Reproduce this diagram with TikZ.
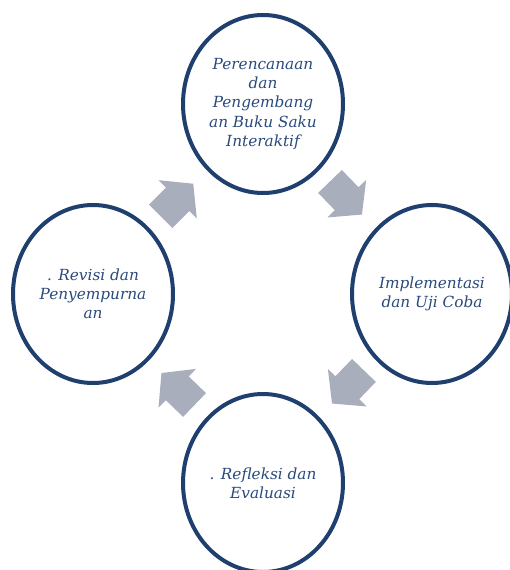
\documentclass[tikz,border=0pt]{standalone}
\usepackage{fontspec}
\setmainfont{DejaVu Serif}
\usetikzlibrary{shapes.geometric}
\definecolor{ringblue}{HTML}{1F3F6E}
\definecolor{textblue}{HTML}{2A4A7C}
\definecolor{arrowgray}{HTML}{A8AEBC}
\begin{document}
\begin{tikzpicture}[x=1pt,y=-1pt,
  stage/.style={ellipse,draw=ringblue,line width=4pt,fill=white,
    minimum width=160pt,minimum height=178pt,inner sep=0pt,
    align=center,text=textblue,
    font=\itshape\fontsize{15.3}{19.2}\selectfont},
  blockarrow/.style={fill=arrowgray,draw=none}]
\useasboundingbox (0,0) rectangle (509,570);
% the four stages of the cycle
\node[stage] (plan) at (263,104) {Perencanaan\\dan\\Pengembang\\an Buku Saku\\Interaktif};
\node[stage] (impl) at (432,294) {Implementasi\\dan Uji Coba};
\node[stage] (refl) at (263,483) {. Refleksi dan\\Evaluasi};
\node[stage] (rev)  at (93,294)  {. Revisi dan\\Penyempurna\\an};
% block arrows between the stages: shaft plus a wide head, drawn along local x
\foreach \cx/\cy/\ang in {346/198/-46, 348/387/226, 178/389/136, 177/200/45}{
  \begin{scope}[shift={(\cx,\cy)},rotate=\ang]
    \fill[blockarrow] (-23,-16.5) -- (1,-16.5) -- (1,-27) -- (23,0)
      -- (1,27) -- (1,16.5) -- (-23,16.5) -- cycle;
  \end{scope}
}
\end{tikzpicture}
\end{document}
